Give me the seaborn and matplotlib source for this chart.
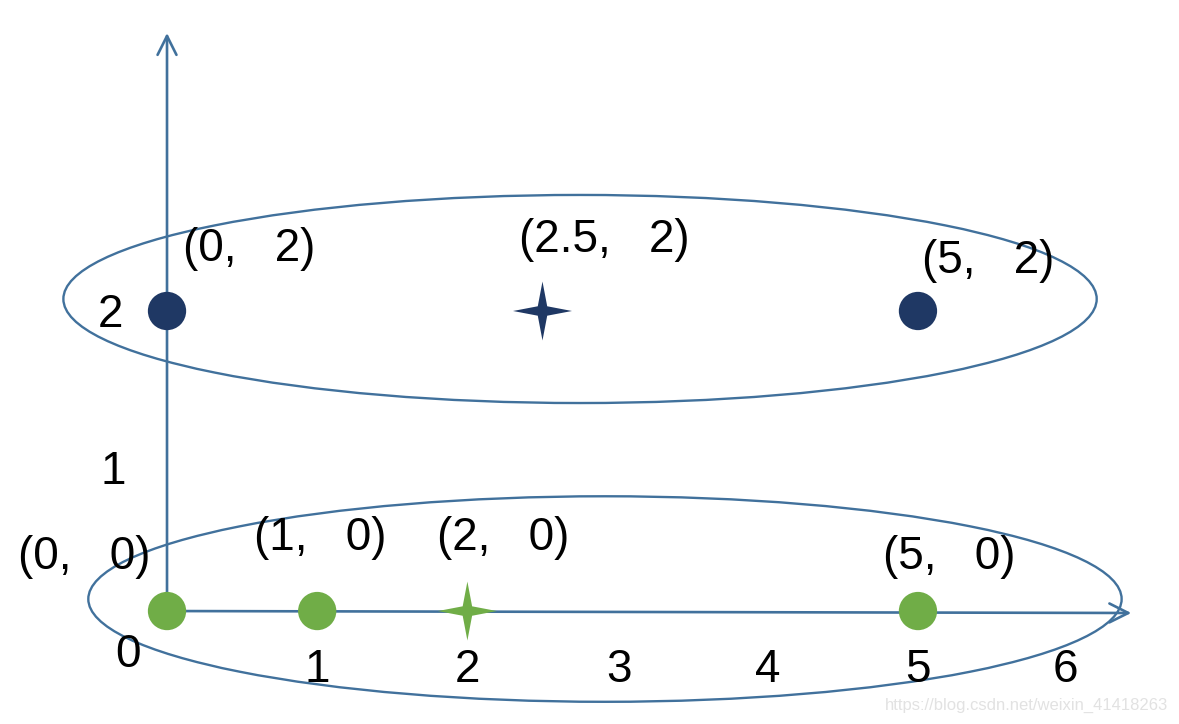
import matplotlib.pyplot as plt
import seaborn as sns
from matplotlib.patches import Ellipse

# 데이터: 두 개의 군집과 각 군집의 중심
green_x = [0, 1, 5]
green_y = [0, 0, 0]
navy_x = [0, 5]
navy_y = [2, 2]
center_x = [2, 2.5]
center_y = [0, 2]
center_colors = ['#70AD47', '#1F3864']

point_labels = ['(0,   0)', '(1,   0)', '(2,   0)', '(5,   0)',
                '(0,   2)', '(2.5,   2)', '(5,   2)']
label_pos = [(-0.55, 0.36), (1.02, 0.49), (2.24, 0.49), (5.21, 0.36),
             (0.55, 2.41), (2.91, 2.47), (5.47, 2.33)]

x_ticks = ['0', '1', '2', '3', '4', '5', '6']
x_tick_pos = [(-0.26, -0.29), (1, -0.39), (2, -0.39), (3.01, -0.39),
              (4.0, -0.39), (5.0, -0.39), (5.98, -0.39)]
y_ticks = ['1', '2']
y_tick_pos = [(-0.36, 0.93), (-0.38, 1.97)]

sns.set_style('white')
plt.rcParams['font.family'] = ['Liberation Sans', 'DejaVu Sans']

fig = plt.figure(figsize=(11.79, 7.24), dpi=100)
ax = fig.add_axes([0, 0, 1, 1])
ax.set_xlim(-1.112, 6.738)
ax.set_ylim(-0.753, 4.073)
ax.axis('off')

line_color = '#41719C'

# 좌표축 화살표
arrow = dict(arrowstyle='->, head_length=0.4, head_width=0.2', color=line_color,
             lw=1.9, mutation_scale=34, shrinkA=0, shrinkB=0)
ax.annotate('', xy=(6.42, -0.013), xytext=(0, 0), arrowprops=arrow)
ax.annotate('', xy=(0, 3.853), xytext=(0, 0), arrowprops=arrow)

# 군집을 둘러싼 타원
ax.add_patch(Ellipse((2.75, 2.08), 6.88, 1.387, fill=False,
                     edgecolor=line_color, lw=1.7))
ax.add_patch(Ellipse((2.916, 0.08), 6.88, 1.37, fill=False,
                     edgecolor=line_color, lw=1.7))

# 점들
sns.scatterplot(x=green_x, y=green_y, color='#70AD47', s=760,
                edgecolor='none', ax=ax, zorder=5)
sns.scatterplot(x=navy_x, y=navy_y, color='#1F3864', s=760,
                edgecolor='none', ax=ax, zorder=5)

# 중심(4각 별)
r = 0.16
star = [(0, 1), (r, r), (1, 0), (r, -r), (0, -1), (-r, -r), (-1, 0), (-r, r)]
sns.scatterplot(x=center_x, y=center_y, hue=[0, 1], palette=center_colors,
                marker=star, s=1800, edgecolor='none', legend=False,
                ax=ax, zorder=5)

for text, (x, y) in zip(point_labels, label_pos):
    ax.text(x, y, text, fontsize=33, ha='center', va='center', color='black')
for text, (x, y) in zip(x_ticks, x_tick_pos):
    ax.text(x, y, text, fontsize=33, ha='center', va='center', color='black')
for text, (x, y) in zip(y_ticks, y_tick_pos):
    ax.text(x, y, text, fontsize=33, ha='center', va='center', color='black')

ax.text(6.665, -0.627, 'https://blog.csdn.net/weixin_41418263', fontsize=12,
        color='#e2e2e2', ha='right', va='center')

fig.savefig('out.png', dpi=100)
